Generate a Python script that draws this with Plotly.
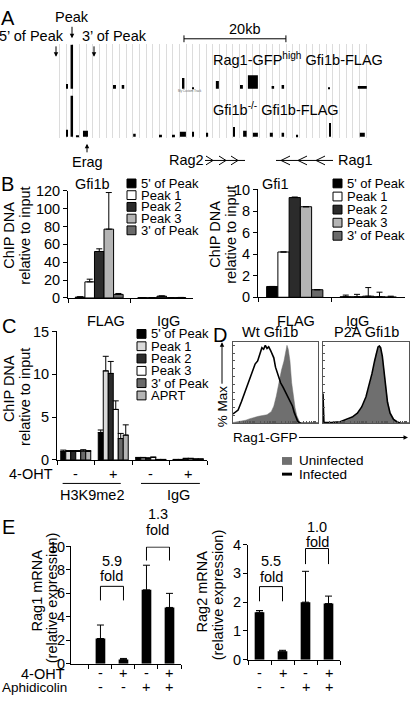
import math
import plotly.graph_objects as go

W, H = 410, 703
FONT = "Liberation Sans, Arial, sans-serif"
FS = 14.5   # main text size
LS = 13     # legend text size


def px(x):
    return x / W


def py(y):
    return 1 - y / H


# ---------------- DATA ----------------
# Panel A: ChIP-seq tracks (position kb, width kb, signal height)
track1_pos = [2.75, 3.69, 12.16, 13.73, 25.59, 27.45, 32.25, 37.06, 39.22, 43.14, 45.10, 54.22, 60.69]
track1_wid = [0.39, 0.49, 0.39, 0.49, 0.39, 0.20, 0.59, 0.39, 1.96, 0.49, 0.49, 0.20, 1.76]
track1_sig = [5, 45, 4, 4, 11, 1, 8, 4, 14, 3, 4, 1, 3]
track2_pos = [2.75, 3.69, 4.80, 6.37, 15.98, 21.18, 23.73, 25.49, 27.55, 30.29, 35.49, 37.65,
              39.71, 42.84, 45.10, 47.94, 54.41, 60.69]
track2_wid = [0.39, 0.49, 0.59, 0.98, 0.49, 0.39, 0.39, 1.18, 0.24, 0.29, 0.29, 0.69,
              0.98, 0.59, 0.49, 0.29, 0.20, 0.98]
track2_sig = [7, 42, 1, 6, 3, 2, 2, 5, 5, 4, 10, 6, 4, 4, 4, 2, 14, 4]
track_names = ["Rag1-GFP<sup>high</sup> Gfi1b-FLAG", "Gfi1b<sup>-/-</sup> Gfi1b-FLAG"]

# Panel B
b_cats = ["FLAG", "IgG"]
b_series = ["5' of Peak", "Peak 1", "Peak 2", "Peak 3", "3' of Peak"]
b_colors = ["#000000", "#ffffff", "#2b2b2b", "#b4b4b4", "#6a6a6a"]
gfi1b_vals = [[1.0, 0.3], [18, 0.3], [52, 2.0], [77, 0.3], [4, 0.5]]
gfi1b_err = [[0.3, 0.1], [3, 0.1], [3, 0.3], [41, 0.1], [1, 0.1]]
gfi1_vals = [[1.0, 0.05], [4.2, 0.05], [9.25, 0.1], [8.4, 0.05], [0.7, 0.02]]
gfi1_err = [[0.0, 0.15], [0.0, 0.22], [0.05, 0.8], [0.0, 0.42], [0.0, 0.08]]

# Panel C
c_oht = ["-", "+", "-", "+"]
c_groups = ["H3K9me2", "IgG"]
c_series = ["5' of Peak", "Peak 1", "Peak 2", "Peak 3", "3' of Peak", "APRT"]
c_colors = ["#000000", "#dadada", "#2b2b2b", "#ffffff", "#6a6a6a", "#b4b4b4"]
c_vals = [[1.0, 3.2, 0.25, 0.05],
          [1.0, 10.4, 0.25, 0.05],
          [1.0, 10.1, 0.2, 0.15],
          [1.0, 5.9, 0.3, 0.15],
          [1.05, 2.5, 0.05, 0.1],
          [1.0, 2.9, 0.05, 0.1]]
c_err = [[0.15, 0.3, 0.05, 0.02],
         [0.1, 1.7, 0.05, 0.02],
         [0.1, 1.4, 0.05, 0.05],
         [0.1, 1.0, 0.05, 0.05],
         [0.15, 0.6, 0.02, 0.02],
         [0.1, 1.2, 0.02, 0.02]]

# Panel D: histograms (% of max vs Rag1-GFP, relative scale 0-100)
d_wt_unf_x = [0, 5, 10, 15, 20, 25, 30, 35, 40, 45, 48, 51, 54, 57, 60, 62, 63.5, 65, 67, 69, 71, 73, 75, 77, 79, 100]
d_wt_unf_y = [1, 2, 3, 4, 6, 8, 9, 10, 11, 15, 22, 35, 52, 68, 80, 92, 100, 95, 80, 52, 35, 20, 10, 4, 0, 0]
d_wt_inf_x = [0, 3, 6, 10, 14, 18, 22, 26, 29, 32, 34, 36, 38, 40, 42, 44, 46, 48, 50, 53, 56, 59, 62, 65,
              68, 70, 72, 74, 76, 78, 80, 100]
d_wt_inf_y = [12, 14, 17, 28, 40, 52, 66, 76, 80, 92, 97, 95, 100, 96, 98, 94, 90, 84, 72, 62, 52, 46, 40, 34,
              28, 22, 14, 8, 3, 1, 0, 0]
d_p2a_x = [0, 1, 2, 10, 20, 28, 34, 40, 45, 50, 54, 57, 60, 62, 64, 65.5, 67, 69, 71, 73, 75, 78, 82, 86, 90, 100]
d_p2a_unf_y = [40, 2, 1, 1, 2, 4, 7, 12, 20, 32, 48, 62, 78, 90, 97, 100, 96, 85, 65, 45, 28, 14, 6, 2, 0, 0]
d_p2a_inf_y = [38, 2, 1, 1, 2, 5, 8, 13, 21, 34, 50, 64, 80, 91, 98, 99, 97, 86, 66, 44, 27, 13, 5, 2, 0, 0]
d_titles = ["Wt Gfi1b", "P2A Gfi1b"]
d_legend = ["Uninfected", "Infected"]

# Panel E
e_oht = ["-", "+", "-", "+"]
e_aph = ["-", "-", "+", "+"]
rag1_vals = [2.15, 0.35, 6.3, 4.8]
rag1_err = [1.15, 0.1, 2.1, 1.2]
rag2_vals = [1.65, 0.3, 2.0, 1.95]
rag2_err = [0.06, 0.03, 1.07, 0.26]
rag1_fold = ["5.9", "1.3"]
rag2_fold = ["5.5", "1.0"]

# ---------------- FIGURE ----------------
fig = go.Figure()
shapes = []
anns = []


def ann(text, x, y, size=FS, xanchor="center", yanchor="middle", angle=0, xref="paper", yref="paper",
        color="black", **kw):
    if xref == "paper":
        x = px(x)
    if yref == "paper":
        y = py(y)
    d = dict(text=text, x=x, y=y, xref=xref, yref=yref, showarrow=False, xanchor=xanchor,
             yanchor=yanchor, textangle=angle, font=dict(size=size, color=color, family=FONT))
    d.update(kw)
    anns.append(d)


def arrow(text, hx, hy, ax, ay, size=FS, angle=0):
    anns.append(dict(text=text, x=px(hx), y=py(hy), xref="paper", yref="paper", showarrow=True,
                     ax=ax, ay=ay, arrowhead=2, arrowsize=0.9, arrowwidth=1, arrowcolor="black",
                     textangle=angle, font=dict(size=size, color="black", family=FONT)))


def legend_box(names, colors, x0, y0, dy, sq=9, size=LS):
    for i, (n, c) in enumerate(zip(names, colors)):
        yc = y0 + i * dy
        shapes.append(dict(type="rect", xref="paper", yref="paper", x0=px(x0), x1=px(x0 + sq),
                           y0=py(yc + sq / 2), y1=py(yc - sq / 2), fillcolor=c,
                           line=dict(color="black", width=1)))
        ann(n, x0 + sq + 3, yc, size=size, xanchor="left")


def bar_axes(xid, yid, xdom, ydom, xr, yr, dtick, xticks, standoff=0):
    ax_common = dict(showline=True, linecolor="black", linewidth=1, ticks="outside", ticklen=4,
                     tickcolor="black", showgrid=False, zeroline=False,
                     tickfont=dict(size=FS, family=FONT, color="black"))
    fig.layout["xaxis" + xid] = dict(ax_common, domain=[px(xdom[0]), px(xdom[1])], range=xr,
                                     anchor="y" + yid, tickmode="array", tickvals=xticks,
                                     showticklabels=False)
    fig.layout["yaxis" + yid] = dict(ax_common, domain=[py(ydom[1]), py(ydom[0])], range=yr,
                                     anchor="x" + xid, dtick=dtick, ticklabelstandoff=standoff)


def err(arr, w=3):
    return dict(type="data", symmetric=False, array=arr, arrayminus=[0] * len(arr),
                color="black", thickness=1, width=w)


# ---- Panel A ----
fig.add_trace(go.Bar(x=track1_pos, y=track1_sig, base=[50.3] * len(track1_pos), width=track1_wid,
                     offset=[-w / 2 for w in track1_wid], marker=dict(color="black", line=dict(width=0)),
                     xaxis="x", yaxis="y", showlegend=False))
fig.add_trace(go.Bar(x=track2_pos, y=track2_sig, base=[1.3] * len(track2_pos), width=track2_wid,
                     offset=[-w / 2 for w in track2_wid], marker=dict(color="black", line=dict(width=0)),
                     xaxis="x", yaxis="y", showlegend=False))
fig.layout.xaxis = dict(domain=[px(53), px(370)], range=[0, 62.2], showgrid=True, gridcolor="#dcdcdc",
                        gridwidth=1, tick0=0, dtick=1.307, showticklabels=False, ticks="",
                        zeroline=False, showline=False, anchor="y")
fig.layout.yaxis = dict(domain=[py(133), py(37)], range=[0, 96], visible=False, anchor="x")
ann(track_names[0], 211, 52, xanchor="left")
ann(track_names[1], 211, 103, xanchor="left")
ann("My Custom Track", 190, 85, size=3, color="#666666")
ann("A", 8, 10, size=20)
arrow("Peak", 72, 31, 0, -21)
ann("5\u2019 of Peak", 31, 29)
arrow("", 56, 50, 0, -12)
ann("3\u2019 of Peak", 114, 29)
arrow("", 94, 50, 0, -12)
arrow("Erag", 87, 139, 0, 18)
# scale bar (20 kb)
shapes.append(dict(type="line", xref="x", yref="paper", x0=25.7, x1=45.7, y0=py(31.5), y1=py(31.5),
                   line=dict(color="black", width=1)))
for xe in (25.7, 45.7):
    shapes.append(dict(type="line", xref="x", yref="paper", x0=xe, x1=xe, y0=py(28), y1=py(35),
                       line=dict(color="black", width=1)))
ann("20kb", 244, 21)
# gene arrows
ann("Rag2", 186, 156)
shapes.append(dict(type="line", xref="paper", yref="paper", x0=px(205), x1=px(245), y0=py(156), y1=py(156),
                   line=dict(color="black", width=1)))
for xc in (206, 219, 231):
    shapes.append(dict(type="path", xref="paper", yref="paper",
                       path=f"M {px(xc)},{py(151.5)} L {px(xc + 7)},{py(156)} L {px(xc)},{py(160.5)}",
                       line=dict(color="black", width=1)))
shapes.append(dict(type="line", xref="paper", yref="paper", x0=px(276), x1=px(333), y0=py(156), y1=py(156),
                   line=dict(color="black", width=1)))
for xc in (290, 307, 325):
    shapes.append(dict(type="path", xref="paper", yref="paper",
                       path=f"M {px(xc)},{py(151.5)} L {px(xc - 9)},{py(156)} L {px(xc)},{py(160.5)}",
                       line=dict(color="black", width=1)))
ann("Rag1", 355, 156)

# ---- Panel B ----
for i, s in enumerate(b_series):
    line = dict(color="black", width=1)
    fig.add_trace(go.Bar(x=[0, 1], y=gfi1b_vals[i], error_y=err(gfi1b_err[i]), name=s,
                         marker=dict(color=b_colors[i], line=line), xaxis="x2", yaxis="y2", showlegend=False))
    fig.add_trace(go.Bar(x=[0, 1], y=gfi1_vals[i], error_y=err(gfi1_err[i]), name=s,
                         marker=dict(color=b_colors[i], line=line), xaxis="x3", yaxis="y3", showlegend=False))
bar_axes("2", "2", (68, 193), (187, 296.7), [-0.5, 1.5], [0, 120], 20, [-0.5, 0.5])
bar_axes("3", "3", (258, 405), (185.7, 296), [-0.5, 1.5], [0, 10], 2, [-0.5, 0.5])
for j, c in enumerate(b_cats):
    ann(c, [0.1, 1.1][j], 320, xref="x2")
    ann(c, [0.02, 0.86][j], 320, xref="x3")
ann("B", 7.5, 180, size=20)
ann("Gfi1b", 92, 180)
ann("Gfi1", 275, 180)
ann("ChIP DNA", 9, 233, angle=-90)
ann("relative to input", 25, 233, angle=-90)
ann("ChIP DNA", 215, 232, angle=-90)
ann("relative to input", 231, 232, angle=-90)
legend_box(b_series, b_colors, 127, 179.5, 12)
legend_box(b_series, b_colors, 333, 179.5, 13.4)

# ---- Panel C ----
cw = 0.1333
for i, s in enumerate(c_series):
    fig.add_trace(go.Bar(x=[0, 1, 2, 3], y=c_vals[i], error_y=err(c_err[i]), name=s,
                         width=cw, offset=-0.4 + i * cw,
                         marker=dict(color=c_colors[i], line=dict(color="black", width=1)),
                         xaxis="x4", yaxis="y4", showlegend=False))
bar_axes("4", "4", (57, 207), (331, 462.5), [-0.5, 3.5], [0, 15], 5, [-0.5, 0.5, 1.5, 2.5, 3.5])
ann("C", 8.5, 325, size=20)
ann("ChIP DNA", 9, 390, angle=-90)
ann("relative to input", 25, 398, angle=-90)
ann("4-OHT", 30.5, 477)
for j, sgn in enumerate(c_oht):
    ann(sgn, j, 477, xref="x4")
for (x0, x1, xl), g in zip([(-0.35, 1.2, 0.42), (1.74, 3.31, 2.75)], c_groups):
    shapes.append(dict(type="line", xref="x4", yref="paper", x0=x0, x1=x1, y0=py(486.5), y1=py(486.5),
                       line=dict(color="black", width=1)))
    ann(g, xl, 498, xref="x4")
legend_box(c_series, c_colors, 137, 333.5, 12.6)

# ---- Panel D ----
log_ticks = [25 * (d + math.log10(k)) for d in range(4) for k in range(1, 10)] + [100]
for k, (xid, xs, yu, xi, yi) in enumerate([("5", d_wt_unf_x, d_wt_unf_y, d_wt_inf_x, d_wt_inf_y),
                                           ("6", d_p2a_x, d_p2a_unf_y, d_p2a_x, d_p2a_inf_y)]):
    fig.add_trace(go.Scatter(x=xs, y=yu, mode="lines", fill="tozeroy", fillcolor="#6f6f6f",
                             line=dict(color="#6f6f6f", width=0.5), name=d_legend[0],
                             xaxis="x" + xid, yaxis="y" + xid, showlegend=False))
    fig.add_trace(go.Scatter(x=xi, y=yi, mode="lines", line=dict(color="black", width=1.6),
                             name=d_legend[1], xaxis="x" + xid, yaxis="y" + xid, showlegend=False))
    xd = [(233, 318), (323, 409)][k]
    fig.layout["xaxis" + xid] = dict(domain=[px(xd[0]), px(xd[1])], range=[0, 100], showline=True,
                                     mirror=True, linecolor="#555555", linewidth=1, ticks="inside",
                                     ticklen=2, tickcolor="#555555", tickvals=log_ticks,
                                     showticklabels=False, showgrid=False, zeroline=False,
                                     anchor="y" + xid)
    fig.layout["yaxis" + xid] = dict(domain=[py(425), py(342)], range=[0, 104], showline=True,
                                     mirror=True, linecolor="#555555", linewidth=1, ticks="inside",
                                     ticklen=2, tickcolor="#555555", dtick=10,
                                     showticklabels=False, showgrid=False, zeroline=False,
                                     anchor="x" + xid)
    ann(d_titles[k], [270, 366][k], 332)
ann("D", 220, 335, size=20)
arrow("% Max", 222, 342, 0, 64, size=13.5, angle=-90)
arrow("Rag1-GFP", 408, 439.5, -143, 0, size=13.5)
shapes.append(dict(type="rect", xref="paper", yref="paper", x0=px(282), x1=px(292), y0=py(467.5),
                   y1=py(459.5), fillcolor="#6f6f6f", line=dict(width=0)))
ann(d_legend[0], 297, 463.5, size=13.5, xanchor="left")
shapes.append(dict(type="rect", xref="paper", yref="paper", x0=px(282), x1=px(292), y0=py(478.5),
                   y1=py(475.5), fillcolor="black", line=dict(width=0)))
ann(d_legend[1], 297, 477, size=13.5, xanchor="left")

# ---- Panel E ----
fig.add_trace(go.Bar(x=[0, 1, 2, 3], y=rag1_vals, error_y=err(rag1_err, 3.5), width=0.42,
                     offset=-0.21, marker=dict(color="black", line=dict(width=0)),
                     xaxis="x7", yaxis="y7", showlegend=False))
fig.add_trace(go.Bar(x=[0, 1, 2, 3], y=rag2_vals, error_y=err(rag2_err, 3.5), width=0.42,
                     offset=-0.21, marker=dict(color="black", line=dict(width=0)),
                     xaxis="x8", yaxis="y8", showlegend=False))
E1_DOM, E1_RANGE = (551, 671), (0, 10)
E2_DOM, E2_RANGE = (549, 667), (0, 4)
bar_axes("7", "7", (71, 181), E1_DOM, [-1.28, 3.5], list(E1_RANGE), 2, [-0.5, 0.5, 1.5, 2.5, 3.5], -2)
bar_axes("8", "8", (248, 340), E2_DOM, [-0.5, 3.5], list(E2_RANGE), 1, [-0.5, 0.5, 1.5, 2.5, 3.5], -1)
ann("E", 8.5, 531, size=20)
ann("Rag1 mRNA", 37, 596, angle=-90)
ann("(relative expression)", 52, 604, angle=-90)
ann("Rag2 mRNA", 202, 597, angle=-90)
ann("(relative expression)", 218, 601, angle=-90)
ann("4-OHT", 67, 681, xanchor="right")
ann("Aphidicolin", 69, 695, size=13.5, xanchor="right")
for j in range(4):
    for xr in ("x7", "x8"):
        ann(e_oht[j], j, 680, xref=xr)
        ann(e_aph[j], j, 695, xref=xr)


def val_to_px(v, dom, rng):
    return dom[1] - (v - rng[0]) / (rng[1] - rng[0]) * (dom[1] - dom[0])


brackets = [("x7", "y7", E1_DOM, E1_RANGE, 0, 1, 6.6, 5.4, rag1_fold[0], 8.75, 7.45),
            ("x7", "y7", E1_DOM, E1_RANGE, 2, 3, 9.95, 8.8, rag1_fold[1], 12.75, 11.4),
            ("x8", "y8", E2_DOM, E2_RANGE, 0, 1, 2.54, 2.03, rag2_fold[0], 3.42, 2.88),
            ("x8", "y8", E2_DOM, E2_RANGE, 2, 3, 3.86, 3.32, rag2_fold[1], 4.6, 4.07)]
for xr, yr, dom, rng, a, b, yt, yl, ftxt, y1, y2 in brackets:
    shapes.append(dict(type="path", xref=xr, yref=yr, path=f"M {a},{yl} L {a},{yt} L {b},{yt} L {b},{yl}",
                       line=dict(color="black", width=1)))
    ann(ftxt, (a + b) / 2, val_to_px(y1, dom, rng), xref=xr)
    ann("fold", (a + b) / 2, val_to_px(y2, dom, rng), xref=xr)

fig.update_layout(width=W, height=H, margin=dict(l=0, r=0, t=0, b=0), paper_bgcolor="white",
                  plot_bgcolor="white", barmode="group", bargap=0.235, bargroupgap=0,
                  showlegend=False, shapes=shapes, annotations=anns,
                  font=dict(family=FONT, size=FS, color="black"))
fig.write_html("out.html", config={"displayModeBar": False},
               post_script="document.body.style.margin='0px';document.body.style.overflow='hidden';")
